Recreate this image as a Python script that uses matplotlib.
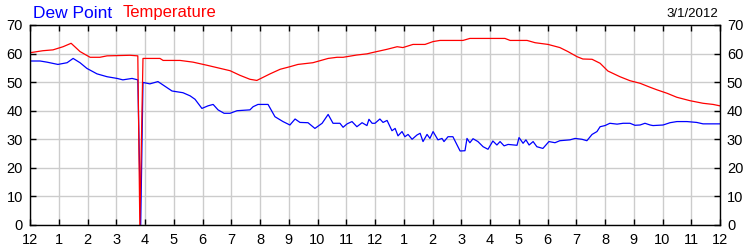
import numpy as np
import matplotlib
matplotlib.use("Agg")
import matplotlib.pyplot as plt

plt.rcParams['font.family'] = ['Liberation Sans', 'DejaVu Sans']

# hours since midnight, temperature (F)
temp_hours = [0.00, 0.45, 0.80, 1.15, 1.43, 1.74, 2.09, 2.43, 2.68, 3.48, 3.75, 3.82, 3.93,
              4.52, 4.63, 5.22, 5.67, 6.16, 6.96, 7.30, 7.65, 7.89, 8.35, 8.70, 9.04, 9.32,
              9.84, 10.37, 10.68, 10.89, 11.37, 11.72, 11.93, 12.42, 12.77, 12.97, 13.32,
              13.74, 14.02, 14.26, 15.06, 15.30, 16.52, 16.70, 17.29, 17.57, 18.02, 18.43,
              18.71, 19.03, 19.23, 19.55, 19.83, 20.10, 20.52, 20.87, 21.22, 21.57, 21.81,
              22.16, 22.50, 22.96, 23.41, 23.76, 24.00]
temp_vals = [60.3, 61.0, 61.3, 62.4, 63.6, 60.7, 58.7, 58.7, 59.2, 59.4, 59.2, 0.0, 58.3,
             58.3, 57.6, 57.6, 57.0, 55.9, 54.0, 52.4, 51.0, 50.6, 52.9, 54.5, 55.4, 56.2,
             56.8, 58.3, 58.7, 58.7, 59.5, 59.9, 60.4, 61.5, 62.4, 62.1, 63.2,
             63.2, 64.2, 64.6, 64.6, 65.3, 65.3, 64.6, 64.6, 63.8, 63.2, 62.1,
             60.7, 58.9, 58.1, 58.0, 56.6, 53.9, 51.9, 50.5, 49.6, 48.2, 47.3,
             46.1, 44.7, 43.5, 42.6, 42.2, 41.7]

# hours since midnight, dew point (F)
dew_hours = [0.00, 0.35, 0.59, 0.97, 1.29, 1.50, 1.74, 1.98, 2.33, 2.68, 3.03, 3.23, 3.55,
             3.75, 3.85, 3.93, 4.17, 4.45, 4.94, 5.32, 5.57, 5.74, 5.98, 6.19, 6.37, 6.54,
             6.75, 6.96, 7.20, 7.65, 7.76, 7.93, 8.28, 8.52, 8.80, 9.04, 9.22, 9.39, 9.67,
             9.91, 10.16, 10.37, 10.54, 10.78, 10.89, 11.03, 11.20, 11.37, 11.55, 11.72,
             11.79, 11.90, 12.00, 12.17, 12.28, 12.42, 12.59, 12.70, 12.80, 12.94, 13.04,
             13.15, 13.29, 13.46, 13.57, 13.67, 13.81, 13.91, 14.02, 14.19, 14.33, 14.40,
             14.54, 14.71, 14.96, 15.13, 15.20, 15.30, 15.41, 15.58, 15.76, 15.93, 16.10,
             16.24, 16.35, 16.49, 16.63, 16.94, 17.01, 17.15, 17.25, 17.36, 17.50, 17.63,
             17.84, 18.05, 18.26, 18.43, 18.78, 18.96, 19.20, 19.37, 19.55, 19.72, 19.83,
             20.00, 20.17, 20.42, 20.63, 20.87, 21.04, 21.22, 21.39, 21.57, 21.67, 22.02,
             22.26, 22.50, 22.85, 23.19, 23.41, 24.00]
dew_vals = [57.4, 57.4, 57.0, 56.2, 56.8, 58.3, 56.8, 54.8, 52.9, 51.9, 51.3, 50.8, 51.3,
            50.8, 0.0, 49.9, 49.4, 50.2, 46.9, 46.3, 45.2, 44.0, 40.8, 41.7, 42.2, 40.3,
            39.1, 39.1, 40.0, 40.3, 41.4, 42.2, 42.2, 37.9, 36.2, 35.0, 37.1, 35.9, 35.8,
            33.8, 35.6, 38.7, 35.6, 35.6, 34.2, 35.4, 36.2, 34.4, 35.8, 34.8,
            37.0, 35.6, 35.6, 37.1, 35.9, 36.6, 33.0, 33.8, 31.2, 32.7, 30.9,
            31.7, 30.0, 31.5, 32.1, 29.2, 31.7, 30.3, 32.7, 29.8, 30.3, 29.2,
            30.9, 30.9, 25.9, 26.0, 30.3, 28.8, 30.2, 29.2, 27.4, 26.5, 29.4,
            28.0, 29.2, 27.7, 28.2, 27.9, 30.6, 28.6, 29.8, 28.0, 29.2, 27.4,
            26.8, 29.2, 28.8, 29.5, 29.8, 30.3, 30.0, 29.5, 31.7, 32.7, 34.4,
            34.8, 35.6, 35.3, 35.6, 35.6, 34.9, 35.0, 35.6, 35.0, 34.8, 35.0,
            35.8, 36.2, 36.2, 35.9, 35.4, 35.4]

hour_labels = ['12'] + [str(h) for h in range(1, 12)] + ['12'] + [str(h) for h in range(1, 12)] + ['12']
y_ticks = [0, 10, 20, 30, 40, 50, 60, 70]

fig = plt.figure(figsize=(7.5, 2.5), dpi=100)
ax = fig.add_axes([0.04, 0.10, 0.92, 0.80])

ax.plot(dew_hours, dew_vals, color='#0000ff', linewidth=0.9)
ax.plot(temp_hours, temp_vals, color='#ff0000', linewidth=0.9)

ax.set_xlim(0, 24)
ax.set_ylim(0, 70)
ax.set_xticks(range(25))
ax.set_xticklabels(hour_labels)
ax.set_yticks(y_ticks)
ax.grid(True, color='#cccccc', linewidth=1)
ax.set_axisbelow(True)
ax.tick_params(direction='in', length=4, width=1, labelsize=10.5,
               top=True, right=True, labelright=True)
ax.tick_params(axis='x', pad=6)
ax.tick_params(axis='y', pad=5)
for s in ax.spines.values():
    s.set_linewidth(1)

fig.text(33 / 750, 1 - 13 / 250, 'Dew Point', color='#0000ff', fontsize=12.5, va='center')
fig.text(123 / 750, 1 - 13 / 250, 'Temperature', color='#ff0000', fontsize=12, va='center')
fig.text(718 / 750, 1 - 14 / 250, '3/1/2012', color='black', fontsize=9.5, va='center', ha='right')

fig.savefig('out.png', dpi=100)
